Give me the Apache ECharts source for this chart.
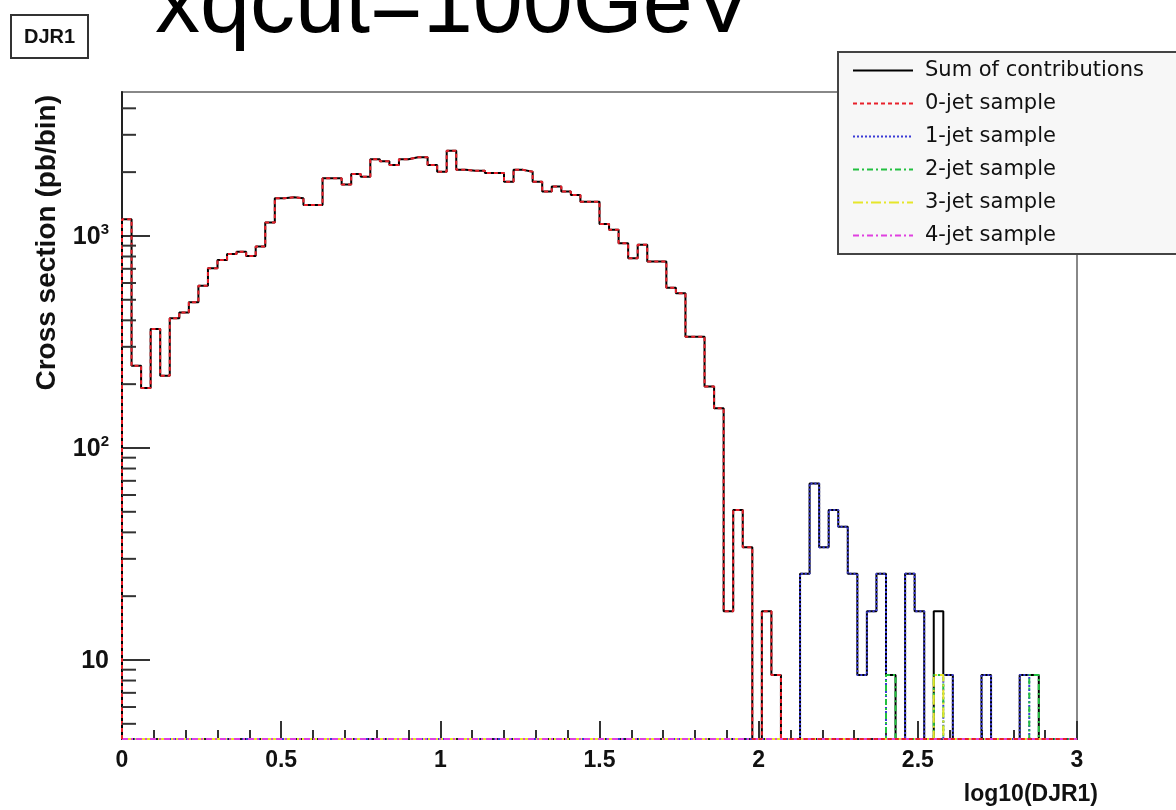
<!DOCTYPE html>
<html><head><meta charset="utf-8">
<script src="https://cdn.jsdelivr.net/npm/echarts@6/dist/echarts.min.js"></script>
<style>html,body{margin:0;padding:0;background:#fff}#c{width:1176px;height:810px}</style>
</head><body><div id="c"></div>
<script>
// ---- data (100 bins of log10(DJR1) from 0 to 3) ----
const xMin = 0, xMax = 3, binWidth = 0.03;
const yMin = 4.24, yMax = 4775;
const xTickLabels = ['0', '0.5', '1', '1.5', '2', '2.5', '3'];
const yMajorTicks = [10, 100, 1000];
const yMinorTicks = [5, 6, 7, 8, 9, 20, 30, 40, 50, 60, 70, 80, 90, 200, 300, 400, 500, 600, 700, 800, 900, 2000, 3000, 4000];
const seriesNames = ['Sum of contributions', '0-jet sample', '1-jet sample', '2-jet sample', '3-jet sample', '4-jet sample'];

const sumContrib = [
  1200, 244, 192, 364, 219, 409, 435, 487, 583, 705,
  771, 823, 843, 805, 891, 1156, 1506, 1523, 1506, 1400,
  1400, 1870, 1870, 1750, 1960, 1900, 2300, 2250, 2160, 2300,
  2350, 2350, 2160, 2010, 2520, 2050, 2030, 2030, 1980, 1980,
  1800, 2050, 2010, 1800, 1620, 1710, 1620, 1560, 1450, 1450,
  1140, 1070, 924, 785, 908, 757, 757, 570, 537, 335,
  335, 195, 154, 17, 51, 34, 0, 17, 8.5, 0,
  0, 25.5, 68, 34, 51, 42.5, 25.5, 8.5, 17, 25.5,
  8.5, 0, 25.5, 17, 0, 17, 8.5, 0, 0, 0,
  8.5, 0, 0, 0, 8.5, 8.5, 0, 0, 0, 0
];
const jet0 = [
  1200, 244, 192, 364, 219, 409, 435, 487, 583, 705,
  771, 823, 843, 805, 891, 1156, 1506, 1523, 1506, 1400,
  1400, 1870, 1870, 1750, 1960, 1900, 2300, 2250, 2160, 2300,
  2350, 2350, 2160, 2010, 2520, 2050, 2030, 2030, 1980, 1980,
  1800, 2050, 2010, 1800, 1620, 1710, 1620, 1560, 1450, 1450,
  1140, 1070, 924, 785, 908, 757, 757, 570, 537, 335,
  335, 195, 154, 17, 51, 34, 0, 17, 8.5, 0,
  0, 0, 0, 0, 0, 0, 0, 0, 0, 0,
  0, 0, 0, 0, 0, 0, 0, 0, 0, 0,
  0, 0, 0, 0, 0, 0, 0, 0, 0, 0
];
const jet1 = [
  0, 0, 0, 0, 0, 0, 0, 0, 0, 0,
  0, 0, 0, 0, 0, 0, 0, 0, 0, 0,
  0, 0, 0, 0, 0, 0, 0, 0, 0, 0,
  0, 0, 0, 0, 0, 0, 0, 0, 0, 0,
  0, 0, 0, 0, 0, 0, 0, 0, 0, 0,
  0, 0, 0, 0, 0, 0, 0, 0, 0, 0,
  0, 0, 0, 0, 0, 0, 0, 0, 0, 0,
  0, 25.5, 68, 34, 51, 42.5, 25.5, 8.5, 17, 25.5,
  0, 0, 25.5, 17, 0, 0, 8.5, 0, 0, 0,
  8.5, 0, 0, 0, 8.5, 0, 0, 0, 0, 0
];
const jet2 = [
  0, 0, 0, 0, 0, 0, 0, 0, 0, 0,
  0, 0, 0, 0, 0, 0, 0, 0, 0, 0,
  0, 0, 0, 0, 0, 0, 0, 0, 0, 0,
  0, 0, 0, 0, 0, 0, 0, 0, 0, 0,
  0, 0, 0, 0, 0, 0, 0, 0, 0, 0,
  0, 0, 0, 0, 0, 0, 0, 0, 0, 0,
  0, 0, 0, 0, 0, 0, 0, 0, 0, 0,
  0, 0, 0, 0, 0, 0, 0, 0, 0, 0,
  8.5, 0, 0, 0, 0, 8.5, 0, 0, 0, 0,
  0, 0, 0, 0, 0, 8.5, 0, 0, 0, 0
];
const jet3 = [
  0, 0, 0, 0, 0, 0, 0, 0, 0, 0,
  0, 0, 0, 0, 0, 0, 0, 0, 0, 0,
  0, 0, 0, 0, 0, 0, 0, 0, 0, 0,
  0, 0, 0, 0, 0, 0, 0, 0, 0, 0,
  0, 0, 0, 0, 0, 0, 0, 0, 0, 0,
  0, 0, 0, 0, 0, 0, 0, 0, 0, 0,
  0, 0, 0, 0, 0, 0, 0, 0, 0, 0,
  0, 0, 0, 0, 0, 0, 0, 0, 0, 0,
  0, 0, 0, 0, 0, 8.5, 0, 0, 0, 0,
  0, 0, 0, 0, 0, 0, 0, 0, 0, 0
];
const jet4 = [
  0, 0, 0, 0, 0, 0, 0, 0, 0, 0,
  0, 0, 0, 0, 0, 0, 0, 0, 0, 0,
  0, 0, 0, 0, 0, 0, 0, 0, 0, 0,
  0, 0, 0, 0, 0, 0, 0, 0, 0, 0,
  0, 0, 0, 0, 0, 0, 0, 0, 0, 0,
  0, 0, 0, 0, 0, 0, 0, 0, 0, 0,
  0, 0, 0, 0, 0, 0, 0, 0, 0, 0,
  0, 0, 0, 0, 0, 0, 0, 0, 0, 0,
  0, 0, 0, 0, 0, 0, 0, 0, 0, 0,
  0, 0, 0, 0, 0, 0, 0, 0, 0, 0
];

// ---- build step outlines (zero bins sit on the frame bottom, as ROOT draws them) ----
function stepPoints(vals) {
  const pts = [[xMin, yMin]];
  vals.forEach((v, i) => pts.push([+(xMin + i * binWidth).toFixed(4), Math.max(v, yMin)]));
  pts.push([xMax, Math.max(vals[vals.length - 1], yMin)]);
  pts.push([xMax, yMin]);
  return pts;
}
const FONT = '"Liberation Sans", Arial, Helvetica, sans-serif';
const styles = [
  { color: '#000000', type: 'solid', width: 2 },
  { color: '#e8202a', type: [4, 3], width: 2 },
  { color: '#3b3bd6', type: [2, 2], width: 2 },
  { color: '#22c040', type: [6, 3, 2, 3], width: 2 },
  { color: '#e6e62a', type: [10, 3, 2, 3], width: 2 },
  { color: '#e040e0', type: [6, 3, 2, 3], width: 2 }
];
const allData = [sumContrib, jet0, jet1, jet2, jet3, jet4];
const drawOrder = [0, 2, 3, 4, 5, 1]; // z order: 0-jet dashes on top along the bottom

const chart = echarts.init(document.getElementById('c'), null, { renderer: 'canvas' });
const series = allData.map((vals, k) => ({
  name: seriesNames[k],
  type: 'line',
  step: 'end',
  data: stepPoints(vals),
  symbol: 'none',
  showSymbol: false,
  clip: true,
  silent: true,
  lineStyle: styles[k],
  itemStyle: { color: styles[k].color },
  z: 3 + drawOrder.indexOf(k)
}));
series.push({
  type: 'custom',
  name: 'yMinor',
  silent: true,
  data: yMinorTicks.map(v => [xMin, v]),
  encode: { x: 0, y: 1 },
  renderItem: (params, api) => {
    const p = api.coord([api.value(0), api.value(1)]);
    return { type: 'line', shape: { x1: p[0], y1: p[1], x2: p[0] + 14, y2: p[1] },
             style: { stroke: '#333', lineWidth: 2 } };
  },
  z: 10
});

chart.setOption({
  animation: false,
  backgroundColor: '#ffffff',
  grid: { left: 122, right: 99, top: 92, bottom: 71, show: true, borderColor: '#888', borderWidth: 2, backgroundColor: 'transparent' },
  xAxis: {
    type: 'value', min: xMin, max: xMax, interval: 0.5,
    axisLine: { show: true, lineStyle: { color: '#222', width: 2 } },
    axisTick: { show: true, inside: true, length: 18, lineStyle: { color: '#333', width: 2 } },
    minorTick: { show: true, splitNumber: 5, length: 9, lineStyle: { color: '#333', width: 2 } },
    splitLine: { show: false },
    axisLabel: {
      margin: 10, color: '#111', fontFamily: FONT, fontWeight: 'bold', fontSize: 23,
      formatter: v => { const i = Math.round(v / 0.5); return xTickLabels[i] !== undefined ? xTickLabels[i] : ''; }
    }
  },
  yAxis: {
    type: 'log', logBase: 10, min: yMin, max: yMax,
    axisLine: { show: true, lineStyle: { color: '#222', width: 2 } },
    axisTick: { show: true, inside: true, length: 28, lineStyle: { color: '#333', width: 2 } },
    splitLine: { show: false },
    axisLabel: {
      margin: 13, color: '#111', fontFamily: FONT, fontWeight: 'bold', fontSize: 25,
      showMinLabel: false, showMaxLabel: false,
      formatter: v => {
        const m = yMajorTicks.find(t => Math.abs(t - v) / t < 1e-6);
        if (!m) return '';
        const e = Math.round(Math.log10(m));
        return e === 1 ? '{b|10}' : '{b|10}{s|' + e + '}';
      },
      rich: {
        b: { fontFamily: FONT, fontWeight: 'bold', fontSize: 25, lineHeight: 28, verticalAlign: 'bottom', color: '#111' },
        s: { fontFamily: FONT, fontWeight: 'bold', fontSize: 15, lineHeight: 15, verticalAlign: 'top', color: '#111' }
      }
    }
  },
  legend: {
    orient: 'vertical', left: 838, top: 52,
    data: seriesNames,
    itemWidth: 60, itemHeight: 14, itemGap: 12,
    padding: [8, 80, 8, 14],
    backgroundColor: '#f7f7f7', borderColor: '#444', borderWidth: 2, borderRadius: 0,
    selectedMode: false,
    itemStyle: { opacity: 0 },
    textStyle: { fontFamily: '"DejaVu Sans", ' + FONT, fontSize: 21, color: '#111', lineHeight: 21, padding: [0, 0, 0, 7] }
  },
  graphic: [
    { type: 'text', left: 155, top: -38, z: 50,
      style: { text: 'xqcut=100GeV', font: '90px ' + FONT, fill: '#000' } },
    { type: 'group', left: 10, top: 14, z: 50, children: [
      { type: 'rect', shape: { x: 0, y: 0, width: 77, height: 43 }, style: { fill: '#fff', stroke: '#333', lineWidth: 2 } },
      { type: 'text', x: 38.5, y: 22, style: { text: 'DJR1', font: 'bold 20px ' + FONT, fill: '#111', align: 'center', verticalAlign: 'middle' } }
    ]},
    { type: 'text', x: 47, y: 95, rotation: Math.PI / 2, z: 50,
      style: { text: 'Cross section (pb/bin)', font: 'bold 28px ' + FONT, fill: '#111', align: 'right', verticalAlign: 'middle' } },
    { type: 'text', x: 1098, y: 795, z: 50,
      style: { text: 'log10(DJR1)', font: 'bold 23px ' + FONT, fill: '#111', align: 'right', verticalAlign: 'middle' } }
  ],
  series: series
});
</script>
</body></html>
